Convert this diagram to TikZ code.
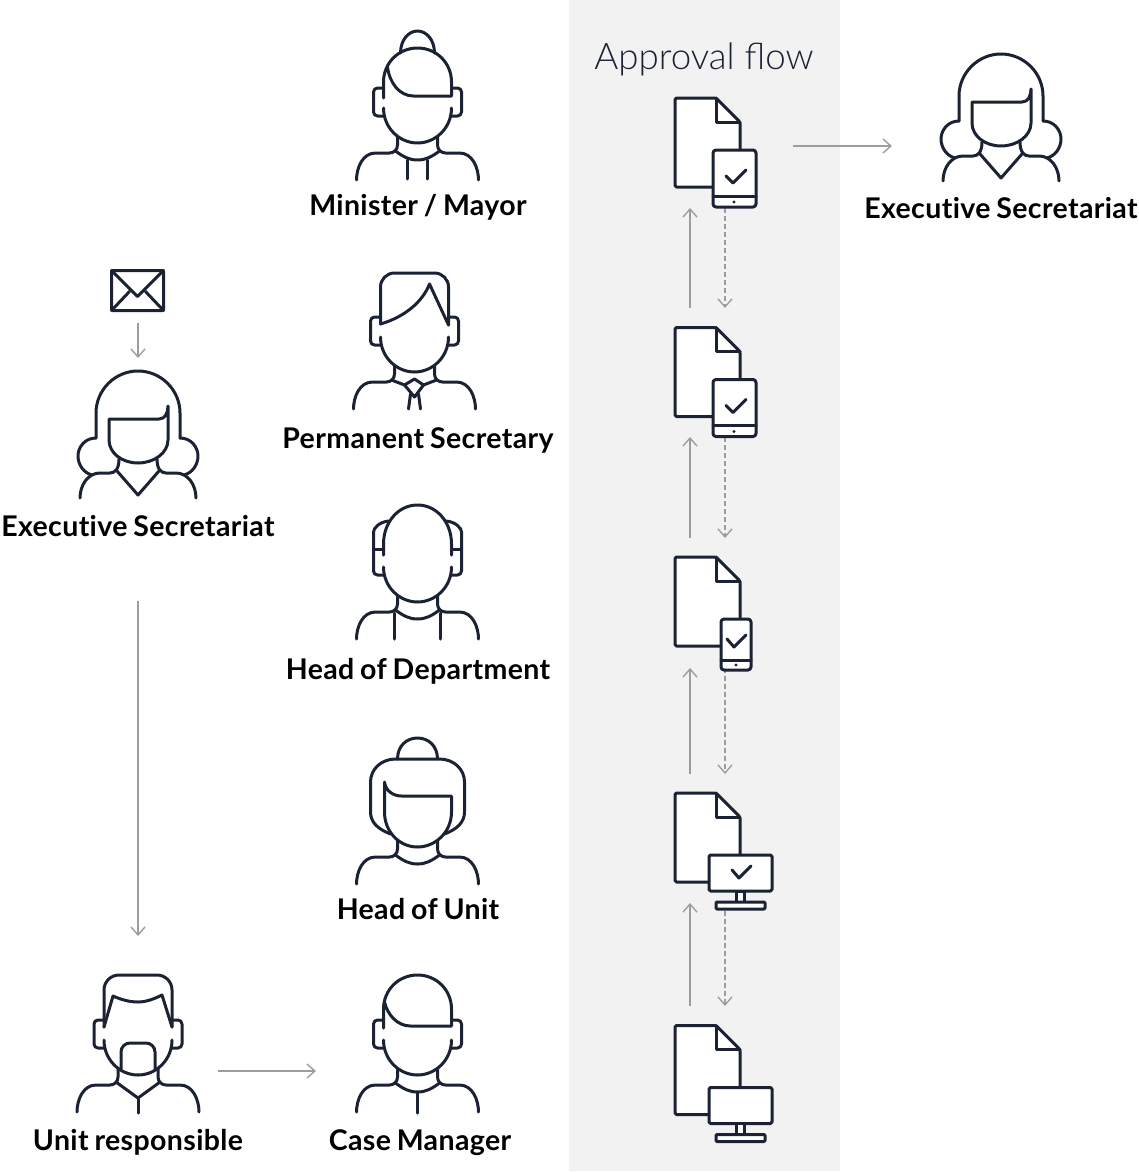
\documentclass[tikz,border=0pt]{standalone}
\usepackage{fontspec}
\setmainfont{Lato}[BoldFont=* Bold, BoldFeatures={LetterSpace=1.3,Ligatures=NoCommon,WordSpace=0.8}]
\newfontfamily\titlefont{Lato Light}
\usetikzlibrary{arrows.meta,positioning}
\definecolor{inkblue}{HTML}{1A2233}
\definecolor{flowgray}{HTML}{9A9EA3}
\definecolor{panelgray}{HTML}{F2F2F2}

\tikzset{
  ink/.style={draw=inkblue, line width=3pt, line cap=round, line join=round},
  ears/.pic={
    \draw[ink, rounded corners=4pt] (-34,-55) -- (-44,-55) -- (-44,-27) -- (-34,-27);
    \draw[ink, rounded corners=4pt] (34,-55) -- (44,-55) -- (44,-27) -- (34,-27);
  },
  jaw/.pic={
    \draw[ink] (-34,-35) .. controls (-34,-15) and (-18,0) .. (0,0) .. controls (18,0) and (34,-15) .. (34,-35);
  },
  shoulders/.pic={
    \draw[ink] (-20,-6) -- (-20,2) .. controls (-20,7) and (-24,10) .. (-28,10) -- (-42,10) .. controls (-55,10) and (-61,25) .. (-61,37);
    \draw[ink] (20,-6) -- (20,2) .. controls (20,7) and (24,10) .. (28,10) -- (42,10) .. controls (55,10) and (61,25) .. (61,37);
  },
  collar/.pic={
    \draw[ink] (-22,8) .. controls (-14,14) and (-8,17) .. (0,17) .. controls (8,17) and (14,14) .. (22,8);
  },
  ministerfig/.pic={
    \pic {ears}; \pic {jaw}; \pic {shoulders}; \pic {collar};
    \draw[ink] (-34,-45) -- (-34,-61) .. controls (-34,-80) and (-19,-95) .. (0,-95) .. controls (19,-95) and (34,-80) .. (34,-61) -- (34,-47) -- (-4,-47) .. controls (-18,-47) and (-28,-60) .. (-30,-76);
    \draw[ink] (-17,-90) .. controls (-17,-103) and (-9,-112) .. (0,-112) .. controls (9,-112) and (17,-103) .. (17,-90);
    \draw[ink] (-10,17) -- (-10,36);
    \draw[ink] (10,17) -- (10,36);
  },
  permanentfig/.pic={
    \pic {ears}; \pic {jaw}; \pic {shoulders};
    \draw[ink, rounded corners=14pt] (-34,-48) -- (-34,-99) -- (34,-99) -- (34,-47);
    \draw[ink] (-34,-48) .. controls (-10,-55) and (8,-70) .. (15,-88) -- (34,-47);
    \draw[ink] (-23,8) -- (-10,13) -- (0,7) -- (9,13) -- (22,8);
    \draw[ink] (-10,13) -- (0,25) -- (9,13);
    \draw[ink] (-4,22) -- (-6,37);
    \draw[ink] (4,22) -- (6,37);
  },
  departmentfig/.pic={
    \pic {jaw}; \pic {shoulders}; \pic {collar};
    \draw[ink] (-34,-47) -- (-34,-58) .. controls (-34,-80) and (-19,-97) .. (0,-97) .. controls (19,-97) and (34,-80) .. (34,-58) -- (34,-47);
    \draw[ink, rounded corners=4pt] (-29,-81) .. controls (-38,-80) and (-44,-74) .. (-44,-66) -- (-44,-27) -- (-34,-27);
    \draw[ink, rounded corners=4pt] (29,-81) .. controls (38,-80) and (44,-74) .. (44,-66) -- (44,-27) -- (34,-27);
    \draw[ink] (-44,-53) -- (-34,-53);
    \draw[ink] (44,-53) -- (34,-53);
    \draw[ink] (-23,11) -- (-23,37);
    \draw[ink] (23,11) -- (23,37);
  },
  unitheadfig/.pic={
    \pic {shoulders}; \pic {collar};
    \draw[ink] (-33,-65) -- (-33,-35) .. controls (-33,-15) and (-18,0) .. (0,0) .. controls (18,0) and (34,-15) .. (34,-35) -- (34,-51) -- (-16,-51) .. controls (-24,-51) and (-32,-56) .. (-33,-65);
    \draw[ink] (-27,-13) .. controls (-40,-18) and (-47,-25) .. (-47,-35) -- (-47,-65) .. controls (-47,-78) and (-36,-88) .. (-22,-88) -- (22,-88) .. controls (36,-88) and (47,-78) .. (47,-65) -- (47,-35) .. controls (47,-25) and (40,-18) .. (27,-13);
    \draw[ink] (-20,-88) .. controls (-20,-101) and (-11,-109) .. (0,-109) .. controls (11,-109) and (20,-101) .. (20,-88);
  },
  managerfig/.pic={
    \pic {ears}; \pic {jaw}; \pic {shoulders}; \pic {collar};
    \draw[ink] (-34,-47) -- (-34,-66) .. controls (-34,-85) and (-19,-100) .. (0,-100) .. controls (19,-100) and (34,-85) .. (34,-66) -- (34,-49) -- (-7,-49) .. controls (-20,-49) and (-30,-60) .. (-33,-73);
    \draw[ink] (0,17) -- (0,38);
  },
  responsiblefig/.pic={
    \pic {ears}; \pic {jaw}; \pic {shoulders};
    \draw[ink, rounded corners=15pt] (-34,-48) -- (-34,-100) -- (34,-100) -- (34,-48);
    \draw[ink] (-34,-48) -- (-25,-79) .. controls (-16,-75) and (-8,-73) .. (0,-73) .. controls (8,-73) and (16,-76) .. (24,-80) -- (34,-48);
    \draw[ink, rounded corners=9pt] (-17,-6) -- (-17,-32) -- (17,-32) -- (17,-6);
    \draw[ink] (-22,7) -- (0,23) -- (22,7);
    \draw[ink] (0,23) -- (0,38);
  },
  secretariatfig/.pic={
    \draw[ink] (-29,-44) -- (-29,-23) .. controls (-29,-10) and (-16,0) .. (0,0) .. controls (16,0) and (30,-10) .. (30,-23) -- (30,-57) .. controls (30,-50) and (27,-44) .. (21,-44) -- cycle;
    \draw[ink] (-42,-25) -- (-42,-50) .. controls (-42,-73) and (-23,-92) .. (0,-92) .. controls (23,-92) and (42,-73) .. (42,-50) -- (42,-25);
    \draw[ink] (-42,-25) .. controls (-53,-25) and (-60,-16) .. (-60,-7) .. controls (-60,2) and (-54,10) .. (-46,12);
    \draw[ink] (42,-25) .. controls (53,-25) and (60,-16) .. (60,-7) .. controls (60,2) and (54,10) .. (46,12);
    \draw[ink] (-58,35) .. controls (-58,22) and (-50,10) .. (-38,10) -- (-28,10) .. controls (-23,10) and (-19,6) .. (-19,-4);
    \draw[ink] (58,35) .. controls (58,22) and (50,10) .. (38,10) -- (28,10) .. controls (23,10) and (19,6) .. (19,-4);
    \draw[ink] (-21,8) -- (0,32) -- (21,8);
  },
  envelopefig/.pic={
    \draw[ink, rounded corners=1pt] (-26,-20) rectangle (26,20);
    \draw[ink] (-26,-20) -- (0,6) -- (26,-20);
    \draw[ink] (-26,20) -- (-8,1);
    \draw[ink] (26,20) -- (8,1);
  },
  pagefig/.pic={
    \draw[ink, fill=white, rounded corners=1.5pt] (0,89) -- (0,0) -- (41,0) -- (65,24) -- (65,89) -- cycle;
    \draw[ink] (41,0) -- (41,24) -- (65,24);
  },
  tabletfig/.pic={
    \pic {pagefig};
    \draw[ink, fill=white, rounded corners=3pt] (38,52) rectangle (81,109);
    \draw[ink] (38,98) -- (81,98);
    \fill[inkblue] (59,104) circle (1.7);
    \draw[ink] (51,78) -- (58,85) -- (71,72);
  },
  phonefig/.pic={
    \pic {pagefig};
    \draw[ink, fill=white, rounded corners=3pt] (46,62) rectangle (76,113);
    \draw[ink] (46,103) -- (76,103);
    \fill[inkblue] (61,108) circle (1.7);
    \draw[ink] (52,82) -- (59,90) -- (71,78);
  },
  monitorfig/.pic={
    \pic {pagefig};
    \draw[ink, fill=white, rounded corners=1.5pt] (34,62) rectangle (97,98);
    \draw[ink, fill=white] (61,98) rectangle (69,109);
    \draw[ink, fill=white, rounded corners=1pt] (41,109) rectangle (90,116);
  },
  checkmark/.pic={
    \draw[ink] (57,77) -- (64,85) -- (76,73);
  }
}

\begin{document}
\begin{tikzpicture}[
  x=1pt, y=-1pt,
  slot/.style={inner sep=0pt, outer sep=0pt, minimum width=#1},
  lbl/.style={font=\fontsize{28.5}{32}\selectfont\bfseries, text=black, inner sep=0pt, text height=20pt, text depth=6pt},
  flow/.style={-{Straight Barb[length=8pt,width=14pt]}, draw=flowgray, line width=1.4pt},
  flowdash/.style={flow, dash pattern=on 5pt off 3pt}
]
\useasboundingbox (0,0) rectangle (1139,1172);
\fill[panelgray] (569,0) rectangle (840,1171);

\node[slot=52pt, minimum height=40pt] (mail) at (138,290.5) {};
\node[slot=124pt, minimum height=127pt] (secretariat) at (138,434.5) {};
\node[slot=124pt, minimum height=140pt] (responsible) at (138,1045) {};
\node[slot=124pt, minimum height=140pt] (manager) at (417,1045) {};
\node[slot=124pt, minimum height=127pt] (secretariattop) at (1001,117.5) {};
\node[slot=66pt, minimum height=111pt] (doca) at (708,152.5) {};
\node[slot=66pt, minimum height=110pt] (docb) at (708,382) {};
\node[slot=66pt, minimum height=111pt] (docc) at (708,612.5) {};
\node[slot=66pt, minimum height=110pt] (docd) at (708,848) {};
\node[slot=66pt, minimum height=118pt] (doce) at (708,1084) {};

\node[font=\titlefont\fontsize{36.7}{40}\selectfont, text=inkblue, inner sep=0pt] (flowtitle) at (704,59) {Approval flow};
\node[lbl] (ministerlabel) at (418,208) {Minister / Mayor};
\node[lbl] (permanentlabel) at (418,441) {Permanent Secretary};
\node[lbl] (departmentlabel) at (418,672) {Head of Department};
\node[lbl] (unitheadlabel) at (418,912) {Head of Unit};
\node[lbl] (managerlabel) at (420,1143) {Case Manager};
\node[lbl] (responsiblelabel) at (138,1143) {Unit responsible};
\node[lbl] (secretariatlabel) at (138,529) {Executive Secretariat};
\node[lbl] (secretariattoplabel) at (1001,211) {Executive Secretariat};

\draw[flow, shorten <=12pt, shorten >=13pt] (mail) -- (secretariat);
\draw[flow, shorten <=59pt, shorten >=39pt] (secretariatlabel) -- (responsible);
\draw[flow, shorten <=18pt, shorten >=39pt] ([yshift=-26pt]responsible.east) -- ([yshift=-26pt]manager.west);
\draw[flow, shorten <=52pt, shorten >=47pt] ([yshift=6.5pt]doca.east) -- ([yshift=-28.5pt]secretariattop.west);
\foreach \lo/\hi in {docb/doca,docc/docb,docd/docc,doce/docd} {
  \draw[flow, shorten <=19pt] ([xshift=-18pt]\lo.north) -- ([xshift=-18pt]\hi.south);
  \draw[flowdash, shorten >=19pt] ([xshift=17pt]\hi.south) -- ([xshift=17pt]\lo.north);
}

\pic at (417.5,143) {ministerfig};
\pic at (414.5,372) {permanentfig};
\pic at (417.5,602) {departmentfig};
\pic at (417.5,847) {unitheadfig};
\pic at (417.5,1075) {managerfig};
\pic at (138,1075) {responsiblefig};
\pic at (138,463) {secretariatfig};
\pic at (1001,146) {secretariatfig};
\pic at (137.5,290.5) {envelopefig};
\pic at (675,98) {tabletfig};
\pic at (675,327.5) {tabletfig};
\pic at (675,557) {phonefig};
\pic at (675,793) {monitorfig};
\pic at (675,793) {checkmark};
\pic at (675,1025.5) {monitorfig};
\end{tikzpicture}
\end{document}
